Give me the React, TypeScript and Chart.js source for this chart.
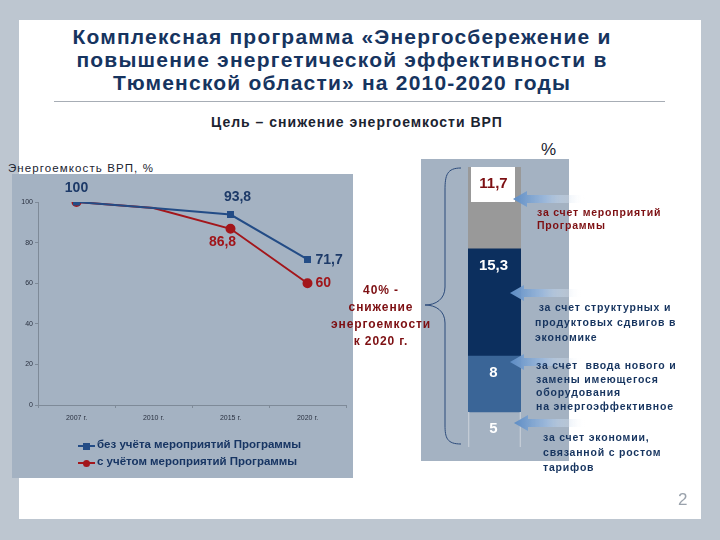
import React, { useEffect, useRef } from "react";
import { Chart, registerables } from "chart.js";

Chart.register(...registerables);

// ---- Line chart data ----
const years = ["2007 г.", "2010 г.", "2015 г.", "2020 г."];
const withoutProgram = [100, 97, 93.8, 71.7];
const withProgram = [100, 97, 86.8, 60];
const labelsWithout = ["100", "", "93,8", "71,7"];
const labelsWith = ["", "", "86,8", "60"];
const yTicks = [0, 20, 40, 60, 80, 100];
const seriesNames = ["без учёта мероприятий Программы", "с учётом мероприятий Программы"];

// ---- Stacked bar data (bottom to top) ----
const barCategory = ["2020"];
const savingTariffs = [5];
const savingEquipment = [8];
const savingStructure = [15.3];
const savingProgram = [11.7];
const barLabels = ["5", "8", "15,3", "11,7"];

const NAVY = "#16345f";
const DARKRED = "#7d0f12";
const FONT = "'Liberation Sans', Arial, sans-serif";

function LineChart() {
  const ref = useRef<HTMLCanvasElement>(null);
  useEffect(() => {
    const labelPlugin = {
      id: "pointLabels",
      afterDatasetsDraw(chart: any) {
        const ctx = chart.ctx;
        ctx.save();
        ctx.font = `bold 14px ${FONT}`;
        ctx.textBaseline = "middle";
        const specs: any[] = [
          { ds: 0, labels: labelsWithout, color: "#1d3a68", off: [[0, -14, "center"], null, [7, -17, "center"], [8, 1, "left"]] },
          { ds: 1, labels: labelsWith, color: "#a0151a", off: [null, null, [-8, 13, "center"], [8, 0, "left"]] },
        ];
        specs.forEach((s) => {
          const meta = chart.getDatasetMeta(s.ds);
          meta.data.forEach((pt: any, i: number) => {
            const o = s.off[i];
            if (!o || !s.labels[i]) return;
            ctx.fillStyle = s.color;
            ctx.textAlign = o[2];
            ctx.fillText(s.labels[i], pt.x + o[0], pt.y + o[1]);
          });
        });
        ctx.restore();
      },
    };
    const chart = new Chart(ref.current!, {
      type: "line",
      data: {
        labels: years,
        datasets: [
          {
            label: seriesNames[0],
            data: withoutProgram,
            borderColor: "#234c86",
            backgroundColor: "#234c86",
            borderWidth: 2,
            pointStyle: "rect",
            pointRadius: [3.5, 0, 3.5, 3.5],
            tension: 0,
          },
          {
            label: seriesNames[1],
            data: withProgram,
            borderColor: "#a3161b",
            backgroundColor: "#a3161b",
            borderWidth: 2,
            pointStyle: "circle",
            pointRadius: [4, 0, 4, 4],
            tension: 0,
          },
        ],
      },
      options: {
        animation: false,
        responsive: false,
        maintainAspectRatio: false,
        layout: { padding: { left: 0, right: 7, top: 28, bottom: 53 } },
        plugins: { legend: { display: false }, tooltip: { enabled: false } },
        scales: {
          x: {
            offset: true,
            afterFit: (s: any) => { s.height = 20; },
            grid: { offset: true, drawOnChartArea: false, drawTicks: true, tickLength: 3, color: "#7e8a98" },
            border: { color: "#7e8a98", width: 1 },
            ticks: { font: { size: 7, family: FONT }, color: "#2a3140", padding: 6 },
          },
          y: {
            min: 0,
            max: 100,
            afterFit: (s: any) => { s.width = 26; },
            afterBuildTicks: (s: any) => { s.ticks = yTicks.map((v) => ({ value: v })); },
            grid: { drawOnChartArea: false, drawTicks: true, tickLength: 3, color: "#7e8a98" },
            border: { color: "#7e8a98", width: 1 },
            ticks: { font: { size: 7, family: FONT }, color: "#2a3140", padding: 2 },
          },
        },
      },
      plugins: [labelPlugin],
    });
    return () => chart.destroy();
  }, []);
  return <canvas ref={ref} width={341} height={304} style={{ position: "absolute", left: 12, top: 174, width: 341, height: 304 }} />;
}

function BarChart() {
  const ref = useRef<HTMLCanvasElement>(null);
  useEffect(() => {
    const segPlugin = {
      id: "segLabels",
      afterDatasetsDraw(chart: any) {
        const ctx = chart.ctx;
        ctx.save();
        const top = chart.getDatasetMeta(3).data[0] as any;
        ctx.fillStyle = "#ffffff";
        ctx.fillRect(top.x - 23.5, top.y, 44, 35);
        ctx.font = `bold 15px ${FONT}`;
        ctx.textAlign = "center";
        ctx.textBaseline = "middle";
        [0, 1, 2, 3].forEach((i) => {
          const el = chart.getDatasetMeta(i).data[0] as any;
          ctx.fillStyle = i === 3 ? DARKRED : "#ffffff";
          ctx.fillText(barLabels[i], el.x - 1, el.y + 17);
        });
        ctx.restore();
      },
    };
    const common = { barPercentage: 1, categoryPercentage: 1, borderSkipped: false };
    const chart = new Chart(ref.current!, {
      type: "bar",
      data: {
        labels: barCategory,
        datasets: [
          { ...common, data: savingTariffs, backgroundColor: "rgba(0,0,0,0)", borderColor: "#c3cbd5", borderWidth: { left: 1, right: 1, top: 0, bottom: 0 } },
          { ...common, data: savingEquipment, backgroundColor: "#3a6597", borderWidth: 0 },
          { ...common, data: savingStructure, backgroundColor: "#0c2f5e", borderWidth: 0 },
          { ...common, data: savingProgram, backgroundColor: "#999999", borderWidth: 0 },
        ] as any,
      },
      options: {
        animation: false,
        responsive: false,
        maintainAspectRatio: false,
        layout: { padding: { left: 47, right: 48, top: 8, bottom: 14 } },
        plugins: { legend: { display: false }, tooltip: { enabled: false } },
        scales: {
          x: { display: false, stacked: true },
          y: { display: false, stacked: true, min: 0, max: 40 },
        },
      },
      plugins: [segPlugin],
    });
    return () => chart.destroy();
  }, []);
  return <canvas ref={ref} width={148} height={302} style={{ position: "absolute", left: 421, top: 159, width: 148, height: 302 }} />;
}

function Arrow({ x, y, id }: { x: number; y: number; id: string }) {
  return (
    <svg style={{ position: "absolute", left: x, top: y - 9, overflow: "visible" }} width={72} height={18}>
      <defs>
        <linearGradient id={id} x1="0" y1="0" x2="1" y2="0">
          <stop offset="0" stopColor="#5d8cc4" stopOpacity="1" />
          <stop offset="0.45" stopColor="#9ab8dc" stopOpacity="0.9" />
          <stop offset="1" stopColor="#ffffff" stopOpacity="0" />
        </linearGradient>
      </defs>
      <path d="M0,9 L14,1 L14,5 L72,5 L72,13 L14,13 L14,17 Z" fill={`url(#${id})`} />
    </svg>
  );
}

const txt = (extra: React.CSSProperties): React.CSSProperties => ({
  position: "absolute",
  fontFamily: FONT,
  whiteSpace: "nowrap",
  ...extra,
});

export default function App() {
  return (
    <div style={{ position: "fixed", left: 0, top: 0, width: 720, height: 540, background: "#bdc6d0", overflow: "hidden" }}>
      <div style={{ position: "absolute", left: 19, top: 20, width: 682, height: 499, background: "#ffffff" }} />
      {/* title */}
      <div style={txt({ left: 0, top: 25, width: 684, textAlign: "center", fontSize: 21, fontWeight: "bold", color: NAVY, lineHeight: "23px", letterSpacing: 1.2 })}>
        Комплексная программа «Энергосбережение и<br />
        повышение энергетической эффективности в<br />
        Тюменской области» на 2010-2020 годы
      </div>
      <div style={{ position: "absolute", left: 54, top: 101, width: 611, height: 1, background: "#a7adb5" }} />
      <div style={txt({ left: 0, top: 114, width: 714, textAlign: "center", fontSize: 14, fontWeight: "bold", color: "#1b2330", letterSpacing: 1 })}>
        Цель – снижение энергоемкости ВРП
      </div>
      <div style={txt({ left: 541, top: 140, fontSize: 17, color: "#1b2330" })}>%</div>
      <div style={txt({ left: 8, top: 162, fontSize: 11.5, color: "#1b2330", letterSpacing: 1.1 })}>Энергоемкость ВРП, %</div>

      {/* line chart panel */}
      <div style={{ position: "absolute", left: 12, top: 174, width: 341, height: 304, background: "#a4b2c2" }} />
      <LineChart />
      {/* legend */}
      {[0, 1].map((i) => (
        <div key={i} style={{ position: "absolute", left: 78, top: 439 + i * 17, height: 14 }}>
          <div style={{ position: "absolute", left: 0, top: 6, width: 17, height: 2, background: i === 0 ? "#234c86" : "#a3161b" }} />
          <div style={{ position: "absolute", left: 5, top: 3.5, width: 7, height: 7, background: i === 0 ? "#234c86" : "#a3161b", borderRadius: i === 0 ? 0 : 4 }} />
          <div style={txt({ left: 19, top: -1, fontSize: 11.5, fontWeight: "bold", color: "#173563" })}>{seriesNames[i]}</div>
        </div>
      ))}

      {/* bar panel */}
      <div style={{ position: "absolute", left: 421, top: 159, width: 148, height: 302, background: "#a4b2c2" }} />
      <BarChart />

      {/* middle text (drawn above the panel) */}
      <div style={txt({ left: 326, top: 282, width: 110, textAlign: "center", fontSize: 12, fontWeight: "bold", color: DARKRED, lineHeight: "17px", letterSpacing: 0.9 })}>
        40% -<br />снижение<br />энергоемкости<br />к 2020 г.
      </div>

      {/* brace */}
      <svg style={{ position: "absolute", left: 0, top: 0 }} width={720} height={540}>
        <path d="M461,168 C447,168 445,175 445,190 L445,287 C445,299 436,305 425,305 C436,305 445,311 445,323 L445,425 C445,438 447,444 461,444" fill="none" stroke="#2b4a7a" strokeWidth={1} />
      </svg>

      {/* arrows */}
      <Arrow x={513} y={199} id="a1" />
      <Arrow x={510} y={293} id="a2" />
      <Arrow x={510} y={362} id="a3" />
      <Arrow x={514} y={423} id="a4" />

      {/* right texts */}
      <div style={txt({ left: 537, top: 206, fontSize: 10.5, fontWeight: "bold", color: DARKRED, lineHeight: "13px", letterSpacing: 0.8 })}>
        за счет мероприятий<br />Программы
      </div>
      <div style={txt({ left: 535, top: 300, fontSize: 10.5, fontWeight: "bold", color: NAVY, lineHeight: "15px", letterSpacing: 0.8 })}>
        &nbsp;за счет структурных и<br />продуктовых сдвигов в<br />экономике
      </div>
      <div style={txt({ left: 536, top: 359, fontSize: 10.5, fontWeight: "bold", color: NAVY, lineHeight: "13.7px", letterSpacing: 0.8 })}>
        за счет&nbsp; ввода нового и<br />замены имеющегося<br />оборудования<br />на энергоэффективное
      </div>
      <div style={txt({ left: 543, top: 430, fontSize: 10.5, fontWeight: "bold", color: NAVY, lineHeight: "15px", letterSpacing: 0.8 })}>
        за счет экономии,<br />связанной с ростом<br />тарифов
      </div>

      {/* right gray strip */}
      <div style={{ position: "absolute", left: 701, top: 0, width: 19, height: 540, background: "#bdc6d0" }} />
      <div style={txt({ left: 678, top: 490, fontSize: 17, color: "#9aa2ac" })}>2</div>
    </div>
  );
}
